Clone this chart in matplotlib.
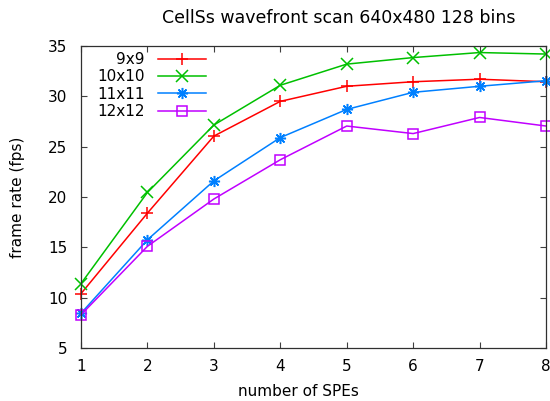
import matplotlib
matplotlib.use("Agg")
import matplotlib.pyplot as plt

spes = [1, 2, 3, 4, 5, 6, 7, 8]
labels = ["9x9", "10x10", "11x11", "12x12"]
fps_9 = [10.4, 18.4, 26.05, 29.5, 31.0, 31.45, 31.7, 31.45]
fps_10 = [11.4, 20.45, 27.15, 31.1, 33.2, 33.85, 34.35, 34.2]
fps_11 = [8.45, 15.75, 21.6, 25.9, 28.7, 30.4, 31.0, 31.55]
fps_12 = [8.3, 15.1, 19.8, 23.7, 27.05, 26.3, 27.9, 27.05]

colors = ["#ff0000", "#00c000", "#0080ff", "#c000ff"]
markers = ["+", "x", (8, 2, 0), "s"]
msizes = [8.5, 8, 8, 7]

plt.rcParams["font.family"] = "DejaVu Sans"
plt.rcParams["font.size"] = 11

fig = plt.figure(figsize=(5.5, 4.01), dpi=100)
ax = fig.add_axes([81 / 550, 1 - 348 / 401, 465 / 550, 302 / 401])

for ys, lab, c, m, ms in zip([fps_9, fps_10, fps_11, fps_12], labels, colors, markers, msizes):
    ax.plot(spes, ys, color=c, marker=m, lw=1.1, ms=ms,
            mew=1.1, mfc="none", label=lab, clip_on=False)

ax.set_xlim(1, 8)
ax.set_ylim(5, 35)
ax.set_xticks(spes)
ax.set_yticks([5, 10, 15, 20, 25, 30, 35])
ax.tick_params(direction="in", length=4, width=0.8, color="#404040",
               top=True, right=True)
ax.tick_params(axis="x", pad=8)
ax.tick_params(axis="y", pad=10)
for s in ax.spines.values():
    s.set_color("#303030")
    s.set_linewidth(0.9)

ax.set_xlabel("number of SPEs")
ax.xaxis.set_label_coords((298 - 81) / 465, -(392 - 348) / 302)
ax.set_ylabel("frame rate (fps)")
ax.yaxis.set_label_coords(-(81 - 18) / 465, 0.5)
ax.xaxis.label.set_va("center")
ax.yaxis.label.set_va("center")
fig.text(339 / 550, 1 - 18 / 401, "CellSs wavefront scan 640x480 128 bins",
         ha="center", va="center", fontsize=12.5)

ax.legend(loc="upper left", markerfirst=False, frameon=False, handlelength=3.1,
          labelspacing=0.15, borderaxespad=0, borderpad=0, handletextpad=0.9,
          bbox_to_anchor=((97 - 81) / 465, (348 - 52) / 302))

fig.savefig("out.png", dpi=100)
